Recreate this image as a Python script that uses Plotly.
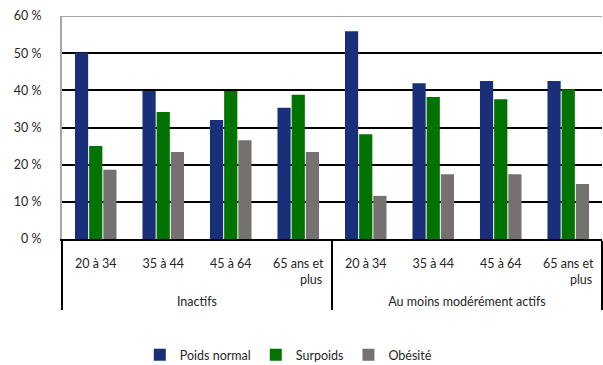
import plotly.graph_objects as go

groups = ["<br>Inactifs"] * 4 + ["<br>Au moins modérément actifs"] * 4
ages = ["20 à 34", "35 à 44", "45 à 64", "65 ans et<br>" + "\u00a0" * 8 + "plus"] * 2

poids_normal = [50.2, 39.8, 32.0, 35.3, 55.9, 41.9, 42.5, 42.5]
surpoids = [25.0, 34.2, 39.8, 38.8, 28.2, 38.2, 37.6, 40.3]
obesite = [18.6, 23.4, 26.6, 23.4, 11.6, 17.4, 17.4, 14.8]

series = [
    ("Poids normal", poids_normal, "#1a2f7a"),
    ("Surpoids", surpoids, "#007300"),
    ("Obésité", obesite, "#767171"),
]

fig = go.Figure()
for name, vals, col in series:
    fig.add_trace(go.Bar(x=[groups, ages], y=vals, name=name,
                         marker=dict(color=col, line=dict(width=0))))

font = "Lato, Open Sans, sans-serif"
fig.update_layout(
    width=603, height=365,
    margin=dict(l=62, r=1, t=16, b=126, autoexpand=False),
    paper_bgcolor="white", plot_bgcolor="white",
    barmode="group", bargap=0.37, bargroupgap=0.07,
    font=dict(family=font, size=12.5, color="#262626"),
    showlegend=True,
    legend=dict(orientation="h", x=0.42, xanchor="center", yref="container",
                y=0.027, yanchor="middle",
                font=dict(size=12.5), itemwidth=30, traceorder="normal"),
    xaxis=dict(type="multicategory", showline=True, linecolor="black", linewidth=2,
               showgrid=False, ticks="", ticklabelstandoff=12,
               showdividers=True, dividercolor="black", automargin=False,
               dividerwidth=2, tickfont=dict(size=12.5)),
    yaxis=dict(range=[0, 60], dtick=10, ticksuffix=" %", showgrid=True,
               gridcolor="black", gridwidth=1.6, showline=True, linecolor="#a6a6a6",
               linewidth=2, zeroline=False, ticks="", ticklabelstandoff=16,
               automargin=False, tickfont=dict(size=12.5)),
)
fig.add_shape(type="line", xref="paper", yref="y", x0=0, x1=1, y0=60, y1=60,
              line=dict(color="#a6a6a6", width=2))
fig.write_html("out.html")
